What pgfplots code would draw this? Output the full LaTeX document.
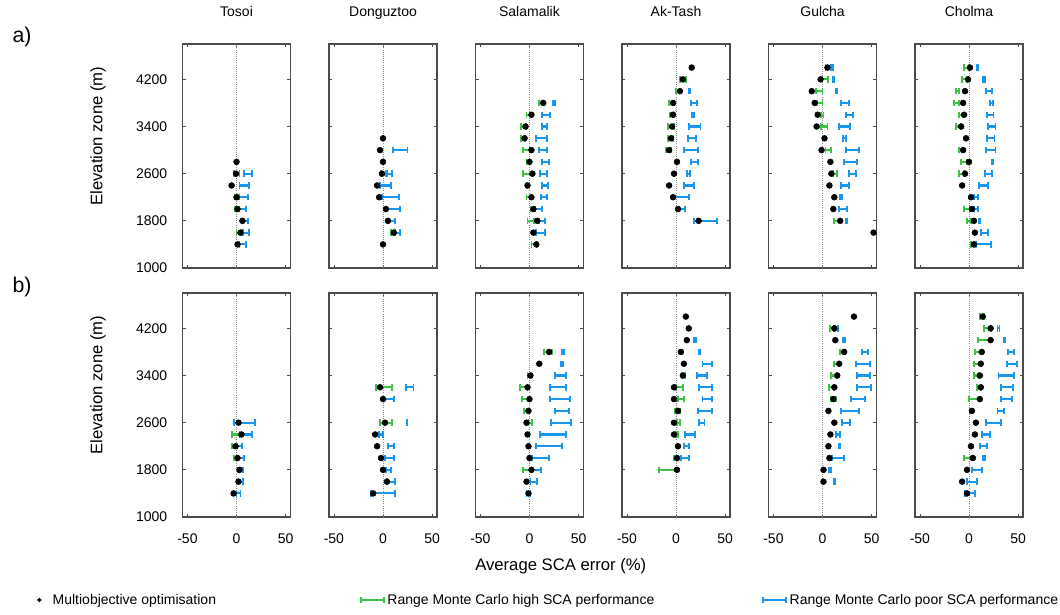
\documentclass[border=0pt]{standalone}
\usepackage{pgfplots}
\usepackage{pgfplotstable}
\pgfplotsset{compat=1.18}
\usepackage{fontspec}
\setmainfont{Liberation Sans}
\definecolor{gb}{RGB}{60,195,70}
\definecolor{bb}{RGB}{25,150,240}

% columns: elevation, dot, green low, green high, blue low, blue high
\pgfplotstableread{
e d gl gh bl bh
2800 0 nan nan nan nan
2600 -0.5 -3 3 8 16
2400 -5 nan nan 3 13
2200 0 -2 2 3 12
2000 1 -2 3 3 10
1800 6 nan nan 7 12
1600 4 0 5 7 13
1400 1 nan nan 3 10
}\Ta
\pgfplotstableread{
e d gl gh bl bh
3200 0 nan nan nan nan
3000 -3 nan nan 10 25
2800 0 nan nan nan nan
2600 -1 -2 3 4 9
2400 -6 nan nan -3 8
2200 -4 nan nan -1 16
2000 3 nan nan 3 17
1800 5 nan nan 5 12
1600 11 8 12 12 17
1400 0 nan nan nan nan
}\Da
\pgfplotstableread{
e d gl gh bl bh
3800 14 10 15 24 26
3600 2 -3 2 13 21
3400 -4 -9 -3 13 18
3200 -5 -9 -4 7 18
3000 2 -7 0 10 18
2800 0 -3 1 13 20
2600 3 -7 2 11 18
2400 -2 -3 0 13 19
2200 2 -3 2 12 18
2000 4 1 5 6 13
1800 8 -2 5 10 16
1600 4 nan nan 7 16
1400 7 2 8 nan nan
}\Sa
\pgfplotstableread{
e d gl gh bl bh
4400 16 nan nan nan nan
4200 7 4 10 nan nan
4000 4 0 4 13 14
3800 -3 -7 -2 15 21
3600 -3 -6 -2 16 18
3400 -4 -8 -2 13 25
3200 -5 -8 -3 12 20
3000 -7 -10 -5 8 22
2800 1 nan nan 15 22
2600 -2 nan nan 11 14
2400 -7 nan nan 8 18
2200 -3 nan nan -3 13
2000 2 nan nan 3 9
1800 23 nan nan 18 42
}\Aa
\pgfplotstableread{
e d gl gh bl bh
4400 5 3 9 9 11
4200 -2 0 6 11 12
4000 -11 -7 0 14 15
3800 -8 -6 0 19 27
3600 -5 -2 1 24 31
3400 -6 -2 5 17 28
3200 2 nan nan 21 24
3000 -1 3 9 24 37
2800 8 nan nan 22 35
2600 9 11 15 27 34
2400 7 nan nan 19 27
2200 12 nan nan 18 20
2000 11 nan nan 17 25
1800 18 12 19 24 25
1600 52 nan nan nan nan
}\Ga
\pgfplotstableread{
e d gl gh bl bh
4400 1 -5 0 8 9
4200 -1 -7 -2 14 16
4000 -4 -13 -10 17 23
3800 -6 -15 -10 21 24
3600 -5 -10 -6 18 25
3400 -8 -13 -8 19 27
3200 -3 nan nan 18 26
3000 -6 -10 -5 17 27
2800 0 -8 -2 23 25
2600 -4 -10 -5 16 23
2400 -7 nan nan 10 19
2200 2 nan nan 5 9
2000 3 -5 1 5 9
1800 5 -2 2 10 11
1600 6 nan nan 12 19
1400 5 2 7 7 22
}\Ca
\pgfplotstableread{
e d gl gh bl bh
2600 2 nan nan -3 19
2400 5 -5 3 3 16
2200 -1 -5 -1 1 6
2000 1 -3 2 2 8
1800 3 1 3 2 7
1600 2 nan nan 2 7
1400 -3 nan nan 0 4
}\Tb
\pgfplotstableread{
e d gl gh bl bh
3200 -3 -7 9 23 31
3000 0 nan nan 1 11
2600 2 -3 9 24 25
2400 -8 nan nan -4 0
2200 -6 nan nan 5 11
2000 -2 nan nan 2 11
1800 0 nan nan 3 8
1600 4 nan nan 4 12
1400 -10 nan nan -12 12
}\Db
\pgfplotstableread{
e d gl gh bl bh
3800 20 15 23 33 35
3600 10 nan nan 32 34
3400 1 -2 2 26 37
3200 -2 -10 -2 21 37
3000 0 -8 -1 21 41
2800 -1 -6 -2 26 40
2600 -3 -1 3 22 42
2400 -2 nan nan 11 37
2200 -1 nan nan 7 33
2000 0 nan nan 3 20
1800 2 -7 1 3 12
1600 -3 nan nan 1 8
1400 -1 nan nan -3 1
}\Sb
\pgfplotstableread{
e d gl gh bl bh
4400 10 nan nan nan nan
4200 13 nan nan nan nan
4000 11 nan nan 18 20
3800 5 nan nan 23 25
3600 8 nan nan 27 37
3400 7 6 9 21 32
3200 -2 0 7 23 37
3000 -2 2 8 27 37
2800 2 -1 4 22 37
2600 -2 1 4 23 29
2400 -2 0 2 9 19
2200 2 nan nan 8 13
2000 1 -2 2 5 13
1800 1 -17 1 nan nan
}\Ab
\pgfplotstableread{
e d gl gh bl bh
4400 32 nan nan nan nan
4200 12 8 13 12 16
4000 13 nan nan 21 23
3800 22 18 22 40 46
3600 17 12 17 34 48
3400 15 9 15 35 48
3200 12 7 12 35 49
3000 11 9 14 29 43
2800 6 nan nan 19 37
2600 12 nan nan 20 28
2400 8 nan nan 14 18
2200 6 nan nan 17 18
2000 7 nan nan 10 22
1800 1 nan nan 7 9
1600 1 nan nan 12 13
}\Gb
\pgfplotstableread{
e d gl gh bl bh
4400 14 11 15 nan nan
4200 22 15 22 29 31
4000 22 9 22 36 37
3800 13 6 13 40 46
3600 12 5 12 39 49
3400 11 5 10 30 46
3200 12 8 12 33 45
3000 11 0 11 33 44
2800 3 1 3 29 36
2600 7 nan nan 17 33
2400 6 nan nan 13 21
2200 2 nan nan 11 18
2000 4 -5 3 14 16
1800 -2 nan nan 3 13
1600 -7 nan nan -2 8
1400 -2 nan nan -4 6
}\Cb

\pgfplotsset{
  panel/.style={
    scale only axis, width=81pt, height=168pt,
    anchor=south west,
    xmin=-55, xmax=55, ymin=1000, ymax=4800,
    xtick={-50,0,50}, ytick={1000,1800,2600,3400,4200},
    xticklabels={}, yticklabels={},
    tick align=inside, major tick length=2.5pt,
    axis line style={black!70, line width=0.9pt},
    tick style={black!70, line width=0.6pt},
    ticklabel style={font=\fontsize{10.5}{12}\selectfont},
    xticklabel style={yshift=-9pt},
    yticklabel style={xshift=-8pt},
    title style={font=\fontsize{10.5}{12}\selectfont, at={(0.5,1)}, anchor=base, yshift=14.5pt},
    clip=false,
  },
  ylab/.style={ylabel={Elevation zone (m)},
    ylabel style={font=\fontsize{12.5}{14}\selectfont, at={(axis description cs:-0.783,0.589)}, anchor=center}},
  xlab/.style={xticklabels={-50,0,50}},
  ylabs/.style={yticklabels={1000,1800,2600,3400,4200}},
  rng/.style={draw=none, mark=none, forget plot, error bars/.cd, x dir=both, x explicit,
    error bar style={draw=#1, line width=1.6pt}, error mark=none},
  cap/.style={only marks, mark=|, mark size=2.4pt, forget plot, color=#1, mark options={line width=1.4pt}},
}

\newcommand{\ranges}[1]{%
\addplot[black!45, densely dotted, line width=0.6pt, forget plot] coordinates {(0,1000) (0,4800)};
\addplot[rng=gb] table[x expr={(\thisrow{gl}+\thisrow{gh})/2}, y=e, x error expr={(\thisrow{gh}-\thisrow{gl})/2}] {#1};
\addplot[cap=gb] table[x=gl, y=e] {#1};
\addplot[cap=gb] table[x=gh, y=e] {#1};
\addplot[rng=bb] table[x expr={(\thisrow{bl}+\thisrow{bh})/2}, y=e, x error expr={(\thisrow{bh}-\thisrow{bl})/2}] {#1};
\addplot[cap=bb] table[x=bl, y=e] {#1};
\addplot[cap=bb] table[x=bh, y=e] {#1};
\addplot[only marks, mark=*, mark size=2.2pt, black, forget plot] table[x=d, y=e] {#1};}

\newcommand{\panel}[5]{%
\begin{axis}[panel, at={(#1,#2)}, title={#4}, #5]
\ranges{#3}
\end{axis}}

\begin{document}
\begin{tikzpicture}
\useasboundingbox (0,0) rectangle (795pt,460.5pt);
\panel{136.9pt}{259.5pt}{\Ta}{Tosoi}{ylab, ylabs}
\panel{246.75pt}{259.5pt}{\Da}{Donguztoo}{}
\panel{356.6pt}{259.5pt}{\Sa}{Salamalik}{}
\panel{466.5pt}{259.5pt}{\Aa}{Ak-Tash}{}
\panel{576.4pt}{259.5pt}{\Ga}{Gulcha}{}
\panel{686.25pt}{259.5pt}{\Ca}{Cholma}{}
\panel{136.9pt}{72.75pt}{\Tb}{}{ylab, ylabs, xlab}
\panel{246.75pt}{72.75pt}{\Db}{}{xlab}
\panel{356.6pt}{72.75pt}{\Sb}{}{xlab, xlabel={Average SCA error (\%)}, xlabel style={font=\fontsize{12.5}{14}\selectfont, at={(axis description cs:0.79,-0.219)}, anchor=center}}
\panel{466.5pt}{72.75pt}{\Ab}{}{xlab}
\panel{576.4pt}{72.75pt}{\Gb}{}{xlab}
\begin{axis}[panel, at={(686.25pt,72.75pt)}, xlab,
  legend columns=3,
  legend style={draw=none, fill=none, font=\fontsize{10.5}{12}\selectfont,
    at={(axis description cs:-8.167,-0.3705)}, anchor=west,
    /tikz/column 2/.style={column sep=106pt},
    /tikz/column 4/.style={column sep=79pt}},
  ]
\ranges{\Cb}
\addlegendimage{legend image code/.code={\fill[black] (0pt,0pt) circle (1.4pt); \path[draw=none, fill=none] (-1.5pt,0pt) rectangle (8pt,0.1pt);}}
\addlegendentry{Multiobjective optimisation}
\addlegendimage{legend image code/.code={\draw[gb, line width=1.5pt] (0pt,0pt) -- (17pt,0pt); \draw[gb, line width=1.3pt] (0pt,-2.3pt) -- (0pt,2.3pt) (17pt,-2.3pt) -- (17pt,2.3pt);}}
\addlegendentry{Range Monte Carlo high SCA performance}
\addlegendimage{legend image code/.code={\draw[bb, line width=1.5pt] (0pt,0pt) -- (17pt,0pt); \draw[bb, line width=1.3pt] (0pt,-2.3pt) -- (0pt,2.3pt) (17pt,-2.3pt) -- (17pt,2.3pt);}}
\addlegendentry{Range Monte Carlo poor SCA performance}
\end{axis}
\node[font=\fontsize{16}{18}\selectfont] at (16.5pt,432.75pt) {a)};
\node[font=\fontsize{16}{18}\selectfont] at (16.5pt,245.25pt) {b)};
\end{tikzpicture}
\end{document}
